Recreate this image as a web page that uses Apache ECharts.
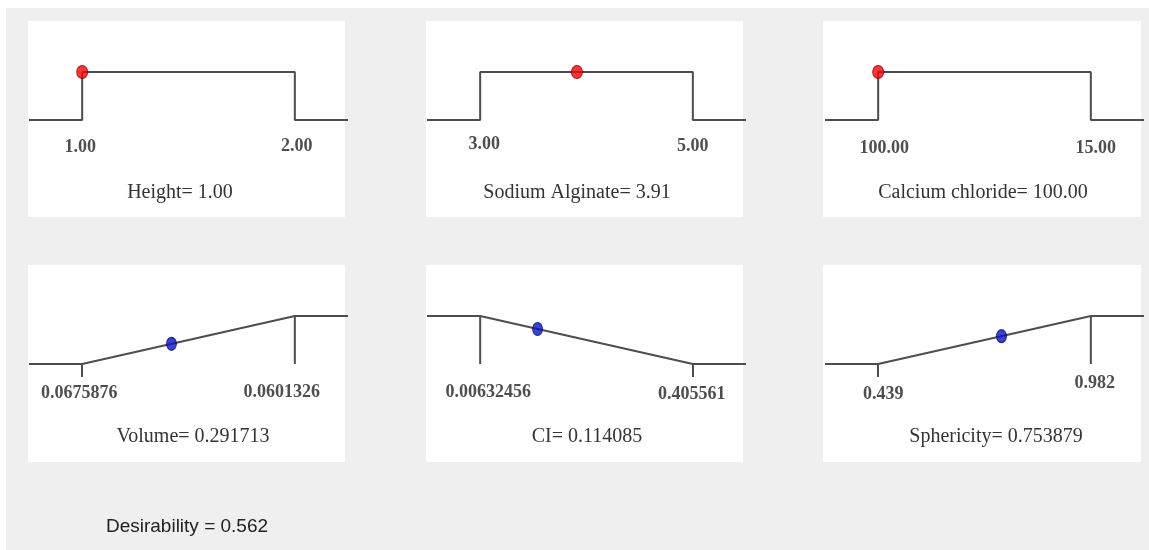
<!DOCTYPE html>
<html>
<head>
<meta charset="utf-8">
<script src="https://cdn.jsdelivr.net/npm/echarts@6/dist/echarts.min.js"></script>
<style>
html,body{margin:0;padding:0;background:#ffffff;}
#chart{width:1149px;height:550px;}
</style>
</head>
<body>
<div id="chart"></div>
<script>
// ---- data ----
const factorNames = ['Height', 'Sodium Alginate', 'Calcium chloride'];
const factorLeft = [1.00, 3.00, 100.00];
const factorRight = [2.00, 5.00, 15.00];
const factorLeftLabels = ['1.00', '3.00', '100.00'];
const factorRightLabels = ['2.00', '5.00', '15.00'];
const factorValues = [1.00, 3.91, 100.00];
const factorValueLabels = ['1.00', '3.91', '100.00'];

const responseNames = ['Volume', 'CI', 'Sphericity'];
const responseLeft = [0.0675876, 0.00632456, 0.439];
const responseRight = [0.601326, 0.405561, 0.982];
const responseLeftLabels = ['0.0675876', '0.00632456', '0.439'];
const responseRightLabels = ['0.0601326', '0.405561', '0.982'];
const responseGoal = ['max', 'min', 'max'];
const responseValues = [0.291713, 0.114085, 0.753879];
const responseValueLabels = ['0.291713', '0.114085', '0.753879'];
const responseDesirability = [0.42, 0.73, 0.58];
const overallDesirability = '0.562';

// ---- layout / style ----
const gridLefts = [29, 427, 825];
const gridWidth = 319;
const rowTops = [72, 316];
const rowHeight = 48;
const panelRects = [
  [28, 21, 317, 196], [426, 21, 317, 196], [823, 21, 318, 196],
  [28, 265, 317, 197], [426, 265, 317, 197], [823, 265, 318, 197]
];
const titleCenters = [[180, 193], [577, 193], [983, 193], [193, 437], [587, 437], [996, 437]];
// label offsets [dx, dy] relative to the mark (left, right) for each panel
const labelOffsets = [
  [[-2, 27], [2, 26]], [[4, 24], [0, 26]], [[6, 28], [5, 28]],
  [[-3, 29], [-13, 28]], [[8, 28], [-1, 30]], [[5, 30], [4, 19]]
];
const lineColor = '#4d4d4d';
const serif = '"Liberation Serif", "Times New Roman", serif';

const grids = [], xAxes = [], yAxes = [], series = [], graphics = [];

graphics.push({type: 'rect', shape: {x: 6, y: 8, width: 1143, height: 542}, style: {fill: '#efefef'}, z: -10});
panelRects.forEach(function (r) {
  graphics.push({type: 'rect', shape: {x: r[0], y: r[1], width: r[2], height: r[3]}, style: {fill: '#ffffff'}, z: -9});
});

function addPanel(idx, left, right, leftLabel, rightLabel) {
  const row = idx < 3 ? 0 : 1;
  const col = idx % 3;
  grids.push({left: gridLefts[col], top: rowTops[row], width: gridWidth, height: rowHeight});
  const extL = left - 0.25 * (right - left);
  const extR = right + 0.25 * (right - left);
  xAxes.push({
    gridIndex: idx, type: 'value',
    min: Math.min(extL, extR), max: Math.max(extL, extR),
    inverse: left > right,
    axisLine: {show: false}, axisTick: {show: false}, axisLabel: {show: false}, splitLine: {show: false}
  });
  yAxes.push({
    gridIndex: idx, type: 'value', min: 0, max: 1, show: false, splitLine: {show: false}
  });
  const offs = labelOffsets[idx];
  series.push({
    type: 'scatter', xAxisIndex: idx, yAxisIndex: idx, symbolSize: 0, silent: true, clip: false,
    data: [
      {value: [left, 0], label: {formatter: leftLabel, offset: offs[0]}},
      {value: [right, 0], label: {formatter: rightLabel, offset: offs[1]}}
    ],
    label: {show: true, position: 'inside', fontFamily: serif, fontWeight: 'bold', fontSize: 18, color: '#222222'}
  });
  return {extL: extL, extR: extR};
}

// factor panels
for (let i = 0; i < 3; i++) {
  const e = addPanel(i, factorLeft[i], factorRight[i], factorLeftLabels[i], factorRightLabels[i]);
  series.push({
    type: 'line', xAxisIndex: i, yAxisIndex: i, symbol: 'none', clip: false, silent: true,
    lineStyle: {color: lineColor, width: 2},
    data: [[e.extL, 0], [factorLeft[i], 0], [factorLeft[i], 1], [factorRight[i], 1], [factorRight[i], 0], [e.extR, 0]]
  });
  series.push({
    type: 'scatter', xAxisIndex: i, yAxisIndex: i, clip: false, silent: true, z: 5,
    symbolSize: [11, 13],
    itemStyle: {color: '#ff0000', borderColor: '#8a0000', borderWidth: 1},
    data: [[factorValues[i], 1]]
  });
  graphics.push({
    type: 'text', x: titleCenters[i][0], y: titleCenters[i][1],
    style: {text: factorNames[i] + '= ' + factorValueLabels[i], font: '20px ' + serif, fill: '#333333', textAlign: 'center', textVerticalAlign: 'middle'}
  });
}

// response panels
for (let j = 0; j < 3; j++) {
  const idx = j + 3;
  const e = addPanel(idx, responseLeft[j], responseRight[j], responseLeftLabels[j], responseRightLabels[j]);
  const dL = responseGoal[j] === 'max' ? 0 : 1;
  const dR = 1 - dL;
  series.push({
    type: 'line', xAxisIndex: idx, yAxisIndex: idx, symbol: 'none', clip: false, silent: true,
    lineStyle: {color: lineColor, width: 2},
    data: [[e.extL, dL], [responseLeft[j], dL], [responseRight[j], dR], [e.extR, dR]]
  });
  // long guide at the end where desirability is 1
  const fullX = dL === 1 ? responseLeft[j] : responseRight[j];
  const zeroX = dL === 1 ? responseRight[j] : responseLeft[j];
  series.push({
    type: 'line', xAxisIndex: idx, yAxisIndex: idx, symbol: 'none', clip: false, silent: true,
    lineStyle: {color: lineColor, width: 2},
    data: [[fullX, 1], [fullX, 0]]
  });
  // short tick at the end where desirability is 0
  xAxes[idx].axisTick = {show: true, customValues: [zeroX], length: 13, lineStyle: {color: lineColor, width: 2}};
  series.push({
    type: 'scatter', xAxisIndex: idx, yAxisIndex: idx, clip: false, silent: true, z: 5,
    symbolSize: [10, 13],
    itemStyle: {color: '#0a14c8', borderColor: '#000a80', borderWidth: 1},
    data: [[responseValues[j], responseDesirability[j]]]
  });
  graphics.push({
    type: 'text', x: titleCenters[idx][0], y: titleCenters[idx][1],
    style: {text: responseNames[j] + '= ' + responseValueLabels[j], font: '20px ' + serif, fill: '#333333', textAlign: 'center', textVerticalAlign: 'middle'}
  });
}

graphics.push({
  type: 'text', x: 187, y: 527,
  style: {text: 'Desirability = ' + overallDesirability, font: '19px "Liberation Sans", Arial, sans-serif', fill: '#222222', textAlign: 'center', textVerticalAlign: 'middle'}
});

const chart = echarts.init(document.getElementById('chart'), null, {renderer: 'canvas'});
chart.setOption({
  animation: false,
  backgroundColor: '#ffffff',
  grid: grids,
  xAxis: xAxes,
  yAxis: yAxes,
  series: series,
  graphic: {elements: graphics}
});
</script>
</body>
</html>
